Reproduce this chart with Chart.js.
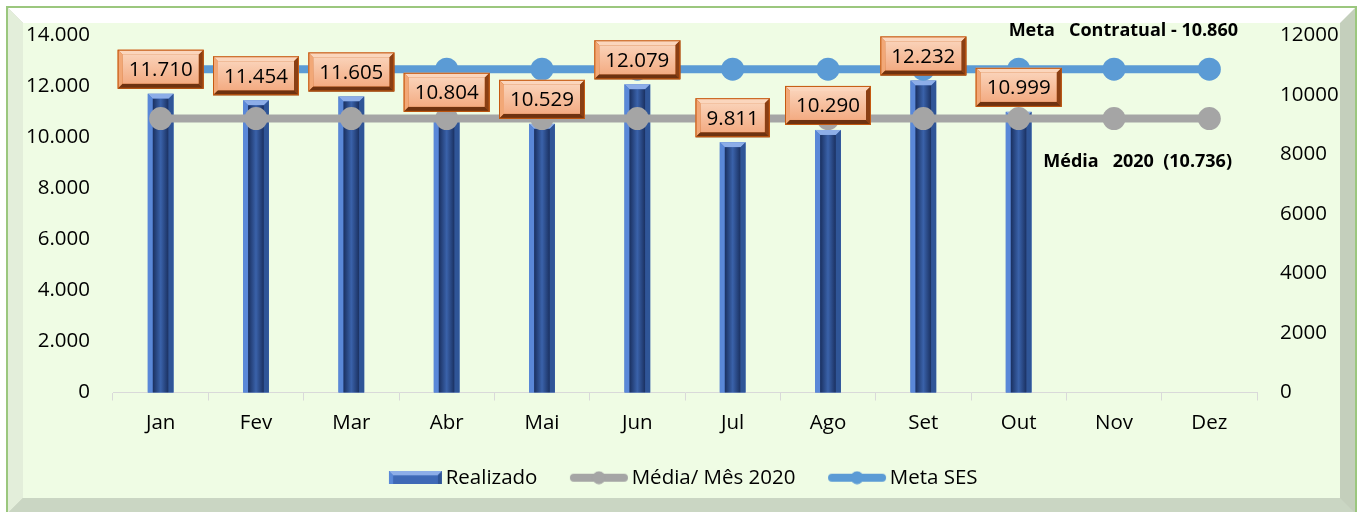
<!DOCTYPE html>
<html>
<head>
<meta charset="utf-8">
<script src="https://cdn.jsdelivr.net/npm/chart.js@4"></script>
<style>
  html, body { margin: 0; padding: 0; background: #fff; }
  #wrap { width: 1362px; height: 512px; }
</style>
</head>
<body>
<div id="wrap"><canvas id="grafico" width="1362" height="512"></canvas></div>
<script>
// dados
const meses = ['Jan', 'Fev', 'Mar', 'Abr', 'Mai', 'Jun', 'Jul', 'Ago', 'Set', 'Out', 'Nov', 'Dez'];
const realizado = [11710, 11454, 11605, 10804, 10529, 12079, 9811, 10290, 12232, 10999, null, null];
const mediaMes = [10736, 10736, 10736, 10736, 10736, 10736, 10736, 10736, 10736, 10736, 10736, 10736];
const metaSes = [10860, 10860, 10860, 10860, 10860, 10860, 10860, 10860, 10860, 10860, 10860, 10860];
const textoMeta = 'Meta   Contratual - 10.860';
const textoMedia = 'Média   2020  (10.736)';

const fonte = "'Open Sans', 'Noto Sans', sans-serif";
const tam = 20.5;
Chart.defaults.font.family = fonte;
Chart.defaults.font.size = tam;
Chart.defaults.color = '#000';

function milhar(v) {
  return String(Math.round(v)).replace(/\B(?=(\d{3})+(?!\d))/g, '.');
}

function poly(c, pts, cor) {
  c.beginPath();
  c.moveTo(pts[0][0], pts[0][1]);
  for (let i = 1; i < pts.length; i++) c.lineTo(pts[i][0], pts[i][1]);
  c.closePath();
  c.fillStyle = cor;
  c.fill();
}

// barra com bisel
function barraBisel(c, l, t, w, h, escura) {
  const r = l + w, b = t + h, s = Math.min(5, w / 4, h / 3);
  c.fillStyle = '#4472C4';
  c.fillRect(l, t, w, h);
  poly(c, [[l, t], [r, t], [r - s, t + s], [l + s, t + s]], '#8DAEE8');
  poly(c, [[l, t], [l + s, t + s], [l + s, b], [l, b]], '#5A88D8');
  poly(c, [[r, t], [r - s, t + s], [r - s, b], [r, b]], '#2F5597');
  const g = c.createLinearGradient(l + s, 0, r - s, 0);
  if (escura) {
    g.addColorStop(0, '#1A3060');
    g.addColorStop(0.5, '#3A62AA');
    g.addColorStop(1, '#1A3060');
  } else {
    g.addColorStop(0, '#3F69B6');
    g.addColorStop(1, '#3F69B6');
  }
  c.fillStyle = g;
  c.fillRect(l + s, t + s, w - 2 * s, h - s);
}

// caixa do rótulo
function caixaRotulo(c, cx, cy, texto) {
  c.font = tam + 'px ' + fonte;
  const tw = c.measureText(texto).width;
  const w = tw + 22, h = 39, l = cx - w / 2, t = cy - h / 2, r = l + w, b = t + h, s = 5;
  c.fillStyle = '#C55A11';
  c.fillRect(l, t, w, h);
  poly(c, [[l, t], [r, t], [r - s, t + s], [l + s, t + s]], '#FBD6BD');
  poly(c, [[l, t], [l + s, t + s], [l + s, b - s], [l, b]], '#F2A877');
  poly(c, [[r, t], [r - s, t + s], [r - s, b - s], [r, b]], '#8A3F14');
  poly(c, [[l, b], [l + s, b - s], [r - s, b - s], [r, b]], '#6E3210');
  const g = c.createLinearGradient(0, t + s, 0, b - s);
  g.addColorStop(0, '#FAD2B8');
  g.addColorStop(1, '#F3AB82');
  c.fillStyle = g;
  c.fillRect(l + s, t + s, w - 2 * s, h - 2 * s);
  c.strokeStyle = '#C55A11';
  c.lineWidth = 1;
  c.strokeRect(l + 0.5, t + 0.5, w - 1, h - 1);
  c.fillStyle = '#000';
  c.textAlign = 'center';
  c.textBaseline = 'middle';
  c.fillText(texto, cx, cy + 1);
}

// amostras da legenda
function amostraBarra() {
  const cv = document.createElement('canvas');
  cv.width = 91; cv.height = 13;
  barraBisel(cv.getContext('2d'), 36, 0, 53, 13, false);
  return cv;
}
function amostraLinha(cor) {
  const cv = document.createElement('canvas');
  cv.width = 91; cv.height = 14;
  const c = cv.getContext('2d');
  c.strokeStyle = cor;
  c.lineWidth = 8;
  c.lineCap = 'round';
  c.beginPath();
  c.moveTo(35, 7);
  c.lineTo(85, 7);
  c.stroke();
  c.fillStyle = cor;
  c.beginPath();
  c.arc(60, 7, 6.5, 0, Math.PI * 2);
  c.fill();
  return cv;
}
const amostras = [amostraBarra(), amostraLinha('#A5A5A5'), amostraLinha('#5B9BD5')];

const moldura = {
  id: 'moldura',
  afterLayout(chart) {
    // legenda um pouco à esquerda, como no original
    chart.legend.left -= 12;
    chart.legend.right -= 12;
  },
  beforeDraw(chart) {
    const c = chart.ctx;
    const L = 7, T = 7, R = 1356, B = 514, s = 16;
    c.save();
    c.fillStyle = '#fff';
    c.fillRect(0, 0, chart.width, chart.height);
    c.fillStyle = '#C4CFBC';
    c.fillRect(L, T, R - L, B - T);
    poly(c, [[L, T], [R, T], [R - s, T + s], [L + s, T + s]], '#FFFFFF');
    poly(c, [[L, T], [L + s, T + s], [L + s, B - s], [L, B]], '#E3EEDA');
    poly(c, [[L, B], [L + s, B - s], [R - s, B - s], [R, B]], '#CAD6C3');
    c.fillStyle = '#EFFCE4';
    c.fillRect(L + s, T + s, R - L - 2 * s, B - T - 2 * s);
    c.strokeStyle = '#9BC77E';
    c.lineWidth = 2;
    c.strokeRect(L, T, R - L, B - T);
    c.restore();
  },
  afterDatasetDraw(chart, args) {
    if (args.index !== 0) return;
    const c = chart.ctx;
    c.save();
    args.meta.data.forEach((el, i) => {
      if (realizado[i] == null) return;
      const p = el.getProps(['x', 'y', 'base', 'width'], true);
      barraBisel(c, p.x - p.width / 2, p.y, p.width, p.base - p.y, true);
    });
    c.restore();
  },
  afterDatasetsDraw(chart) {
    const c = chart.ctx;
    c.save();
    chart.getDatasetMeta(0).data.forEach((el, i) => {
      if (realizado[i] == null) return;
      caixaRotulo(c, el.x, el.y - 24.5, milhar(realizado[i]));
    });
    c.font = 'bold 18px ' + fonte;
    c.fillStyle = '#000';
    c.textAlign = 'right';
    c.textBaseline = 'middle';
    c.fillText(textoMeta, 1238, 31);
    c.fillText(textoMedia, 1232, 162);
    c.restore();
  }
};

new Chart(document.getElementById('grafico'), {
  type: 'bar',
  data: {
    labels: meses,
    datasets: [
      {
        label: 'Realizado',
        data: realizado,
        backgroundColor: 'rgba(0,0,0,0)',
        borderWidth: 0,
        categoryPercentage: 1,
        barPercentage: 0.27,
        yAxisID: 'y',
        order: 3
      },
      {
        type: 'line',
        label: 'Média/ Mês 2020',
        data: mediaMes,
        borderColor: '#A5A5A5',
        backgroundColor: '#A5A5A5',
        borderWidth: 8,
        pointRadius: 11.5,
        pointHoverRadius: 11.5,
        pointBorderWidth: 0,
        yAxisID: 'y',
        order: 2
      },
      {
        type: 'line',
        label: 'Meta SES',
        data: metaSes,
        borderColor: '#5B9BD5',
        backgroundColor: '#5B9BD5',
        borderWidth: 8,
        pointRadius: 11.5,
        pointHoverRadius: 11.5,
        pointBorderWidth: 0,
        yAxisID: 'y1',
        order: 1
      }
    ]
  },
  options: {
    responsive: false,
    animation: false,
    layout: { padding: { left: 23, right: 22, top: 34, bottom: 14 } },
    scales: {
      x: {
        grid: { display: true, drawOnChartArea: false, drawTicks: true, tickLength: 8, color: '#D9D9D9', offset: true },
        border: { display: true, color: '#D9D9D9' },
        ticks: { padding: 10 },
        afterFit(s) { s.height = 65; }
      },
      y: {
        position: 'left',
        min: 0, max: 14000,
        grid: { display: false, drawTicks: false, tickLength: 0 },
        border: { display: false },
        ticks: { stepSize: 2000, padding: 23, callback: v => milhar(v) },
        afterFit(s) { s.width = 90; }
      },
      y1: {
        position: 'right',
        min: 0, max: 12000,
        grid: { display: false, drawTicks: false, tickLength: 0 },
        border: { display: false },
        ticks: { stepSize: 2000, padding: 23, callback: v => String(v) },
        afterFit(s) { s.width = 83; }
      }
    },
    plugins: {
      tooltip: { enabled: false },
      legend: {
        position: 'bottom',
        labels: {
          usePointStyle: true,
          pointStyleWidth: 74,
          padding: 10,
          font: { size: tam },
          sort: (a, b) => a.datasetIndex - b.datasetIndex,
          generateLabels(chart) {
            const itens = Chart.defaults.plugins.legend.labels.generateLabels(chart);
            itens.forEach(it => { it.pointStyle = amostras[it.datasetIndex]; });
            return itens;
          }
        }
      }
    }
  },
  plugins: [moldura]
});
</script>
</body>
</html>
